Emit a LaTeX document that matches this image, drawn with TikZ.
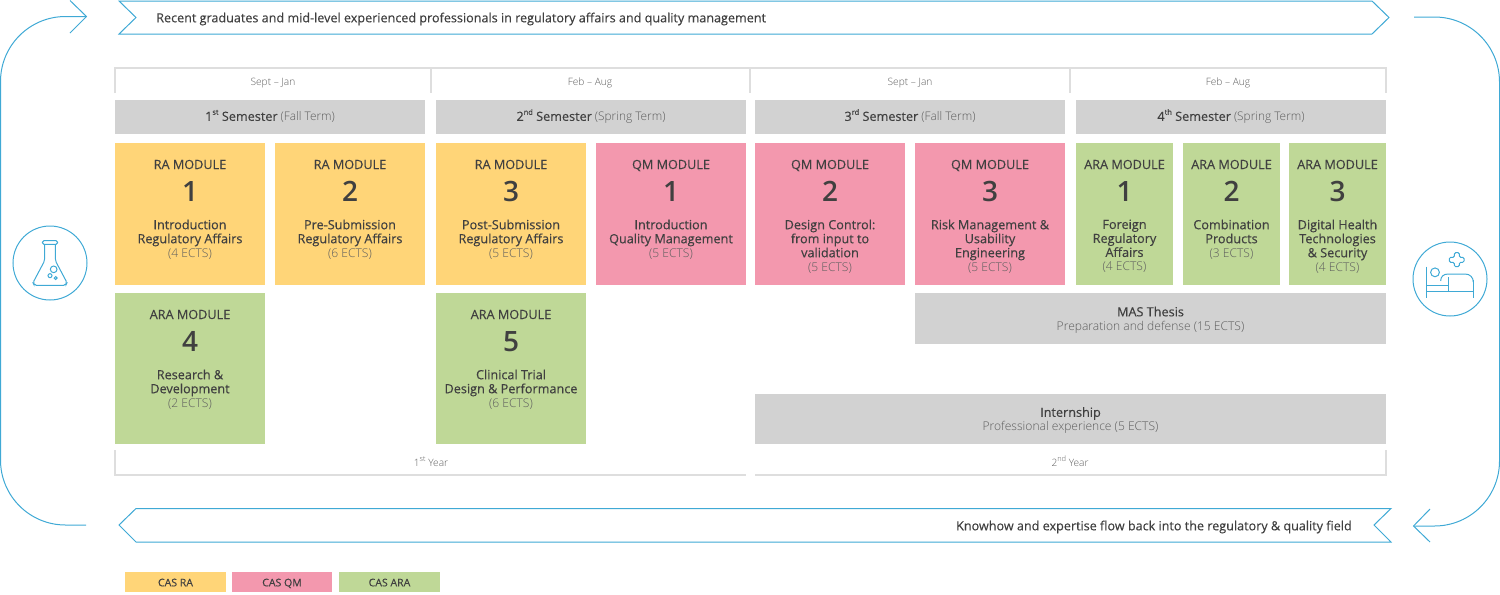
\documentclass[tikz,border=0pt]{standalone}
\usepackage{fontspec}
\setmainfont{Open Sans}
\newfontfamily\light{Open Sans Light}
\newfontfamily\medium[FakeBold=0.3]{Open Sans}
\newfontfamily\semi{Open Sans Semibold}
\usetikzlibrary{positioning}
\definecolor{cas-ra}{HTML}{FFD578}
\definecolor{cas-qm}{HTML}{F398AE}
\definecolor{cas-ara}{HTML}{BFD897}
\definecolor{bar}{HTML}{D2D2D2}
\definecolor{frame}{HTML}{DEDEDE}
\definecolor{flow}{HTML}{3FA9D5}
\definecolor{ink}{HTML}{404040}
\definecolor{soft}{HTML}{5E5E5E}
\newcommand{\ects}[1]{{\fontsize{9.05}{10.5}\light\color{soft}#1}}
\newcommand{\ord}[1]{\raisebox{0.9ex}{\fontsize{5.6}{6}\selectfont #1}}
\tikzset{%
	module/.style={
		rectangle,
		anchor=north west,
		inner sep=0pt,
		outer sep=0pt
	},
	module-head/.style={ font=\fontsize{9.5}{10.5}\medium, text=ink },
	module-num/.style={ font=\fontsize{21}{24}\semi, text=ink },
	module-text/.style={ anchor=north, align=center, inner sep=0pt, font=\fontsize{9.5}{10.5}\medium, text=ink,
		execute at begin node={\rule{0pt}{7.3pt}} },
	period/.style={ font=\fontsize{7.6}{9}\light, text=soft, text height=6pt, text depth=1.5pt },
	semester/.style={ font=\fontsize{8.9}{10.5}\light, text=soft, text height=7pt, text depth=2pt },
	wide-text/.style={ align=center, font=\fontsize{9.5}{10.5}\medium, text=ink },
	banner/.style={ draw=flow, line width=0.75pt, fill=white },
	banner-text/.style={ font=\fontsize{9.45}{11}\medium, text=ink, inner sep=0pt },
	loopline/.style={ draw=flow, line width=0.75pt },
	icon/.style={ draw=flow, line width=0.75pt },
	frameline/.style={ draw=frame, line width=1.1pt },
}
\begin{document}
\begin{tikzpicture}[x=0.75pt, y=-0.75pt]
\useasboundingbox (0,0) rectangle (1500,594);

% frames of periods and years
\draw[frameline] (115,93) -- (115,68) -- (1386,68) -- (1386,93);
\foreach \x in {431,750,1070}
	\draw[frameline] (\x,68) -- (\x,93);
\draw[frameline] (115,450) -- (115,475) -- (746,475);
\draw[frameline] (755,475) -- (1386,475) -- (1386,450);

% period labels
\foreach \l/\x in {Sept – Jan/273,Feb – Aug/590,Sept – Jan/910,Feb – Aug/1228}
	\node[period] (period-\x) at (\x,82) {\l};
\node[period] (year-1) at (431,463) {1\ord{st} Year};
\node[period] (year-2) at (1070,463) {2\ord{nd} Year};

% semesters
\foreach \i/\x in {1/115,2/436,3/755,4/1076}
	\node[module, fill=bar, minimum width=232.5pt, minimum height=25.5pt] (sem-\i) at (\x,100) {};
\foreach \i/\s/\t in {1/st/Fall,2/nd/Spring,3/rd/Fall,4/th/Spring}
	\node[semester] (sem-\i-text) at ([yshift=-0.4pt]sem-\i.center)
		{{\fontsize{9.5}{10.5}\medium\color{ink}\i\ord{\s} Semester} (\t\ Term)};

% modules
\foreach \nm/\x/\y/\w/\h/\col/\hd/\n/\txt in {
	ra-1/115/143/150/142/cas-ra/RA MODULE/1/{Introduction\\Regulatory Affairs\\\ects{(4 ECTS)}},
	ra-2/275/143/150/142/cas-ra/RA MODULE/2/{Pre-Submission\\Regulatory Affairs\\\ects{(6 ECTS)}},
	ra-3/436/143/150/142/cas-ra/RA MODULE/3/{Post-Submission\\Regulatory Affairs\\\ects{(5 ECTS)}},
	qm-1/596/143/150/142/cas-qm/QM MODULE/1/{Introduction\\Quality Management\\\ects{(5 ECTS)}},
	qm-2/755/143/150/142/cas-qm/QM MODULE/2/{Design Control:\\from input to\\validation\\\ects{(5 ECTS)}},
	qm-3/915/143/150/142/cas-qm/QM MODULE/3/{Risk Management \&\\Usability\\Engineering\\\ects{(5 ECTS)}},
	ara-1/1076/143/97/142/cas-ara/ARA MODULE/1/{Foreign\\Regulatory\\Affairs\\\ects{(4 ECTS)}},
	ara-2/1183/143/97/142/cas-ara/ARA MODULE/2/{Combination\\Products\\\ects{(3 ECTS)}},
	ara-3/1289/143/97/142/cas-ara/ARA MODULE/3/{Digital Health\\Technologies\\\& Security\\\ects{(4 ECTS)}},
	ara-4/115/293/150/151/cas-ara/ARA MODULE/4/{Research \&\\Development\\\ects{(2 ECTS)}},
	ara-5/436/293/150/151/cas-ara/ARA MODULE/5/{Clinical Trial\\Design \& Performance\\\ects{(6 ECTS)}}}
{
	\node[module, fill=\col, minimum width=\w*0.75pt, minimum height=\h*0.75pt] (\nm) at (\x,\y) {};
	\node[module-head, text height=7pt, text depth=0pt] (\nm-head) at ([yshift=-16pt]\nm.north) {\hd};
	\node[module-num] (\nm-num) at ([yshift=-36.25pt]\nm.north) {\n};
	\node[module-text] (\nm-text) at ([yshift=-57.25pt]\nm.north) {\txt};
}

% thesis and internship
\node[module, fill=bar, minimum width=353.25pt, minimum height=38.25pt] (thesis) at (915,293) {};
\node[wide-text] (thesis-text) at ([yshift=-1.1pt]thesis.center)
	{MAS Thesis\\\ects{Preparation and defense (15 ECTS)}};
\node[module, fill=bar, minimum width=473.25pt, minimum height=37.5pt] (internship) at (755,394) {};
\node[wide-text] (internship-text) at ([yshift=-1.1pt]internship.center)
	{Internship\\\ects{Professional experience (5 ECTS)}};

% banners
\draw[banner] (119,1) -- (1372,1) -- (1389,17.5) -- (1372,34) -- (119,34) -- (136,17.5) -- cycle;
\node[banner-text, anchor=west] (banner-top) at (156,19) {Recent graduates and mid-level experienced professionals in regulatory affairs and quality management};
\draw[banner] (119,525) -- (136,508.5) -- (1391,508.5) -- (1374,525) -- (1391,542) -- (136,542) -- cycle;
\node[banner-text, anchor=east] (banner-bottom) at (1352,527) {Knowhow and expertise flow back into the regulatory \& quality field};

% return arrows
\coordinate (loop-lb) at (86,525);
\coordinate (loop-lt) at (86.5,16.5);
\coordinate (loop-rt) at (1414,17);
\coordinate (loop-rb) at (1413.5,526);
\draw[loopline, rounded corners=48.75pt] (loop-lb) -- (0.5,525) -- (0.5,16.5) -- (loop-lt);
\draw[loopline] (70,0.5) -- (loop-lt) -- (70,33);
\draw[loopline, rounded corners=48.75pt] (loop-rt) -- (1499.5,17) -- (1499.5,526) -- (loop-rb);
\draw[loopline] (1430,509) -- (loop-rb) -- (1430,542);

% flask
\node[circle, icon, minimum size=55.5pt, inner sep=0pt] (flask) at (50,263) {};
\begin{scope}[shift={(0,220)}, x=0.25pt, y=-0.25pt]
	\draw[icon, rounded corners=1.2pt] (127,62) rectangle (173,73);
	\draw[icon, rounded corners=1.5pt] (134,73) -- (134,122) -- (99,188) -- (103,196) -- (197,196) -- (201,188) -- (166,122) -- (166,73);
	\draw[icon] (161,148) circle[radius=2.5pt];
	\draw[icon] (150,167) circle[radius=1.5pt];
	\draw[icon] (167,174) circle[radius=1.1pt];
\end{scope}

% patient
\node[circle, icon, minimum size=55.5pt, inner sep=0pt] (patient) at (1450,279) {};
\begin{scope}[shift={(1380,220)}, x=0.25pt, y=-0.25pt]
	\draw[icon] (140,140) -- (140,235);
	\draw[icon] (280,180) -- (280,235);
	\draw[icon] (140,195) -- (205,195);
	\draw[icon] (140,213) -- (280,213);
	\draw[icon] (165,157) circle[radius=3.3pt];
	\draw[icon] (205,213) -- (205,172);
	\draw[icon] (182,183) .. controls (182,170) and (190,162) .. (205,162) -- (255,162) .. controls (270,162) and (280,172) .. (280,187);
	\draw[icon, rounded corners=1pt] (223,98) -- (238,98) -- (238,112) -- (252,112) -- (252,127) -- (238,127) -- (238,140) -- (223,140) -- (223,127) -- (208,127) -- (208,112) -- (223,112) -- cycle;
\end{scope}

% legend
\foreach \nm/\x/\w/\col/\l in {ra/125/101/cas-ra/CAS RA,qm/232/100/cas-qm/CAS QM,ara/339/101/cas-ara/CAS ARA}
{
	\node[module, fill=\col, minimum width=\w*0.75pt, minimum height=15pt] (legend-\nm) at (\x,572) {};
	\node[text=ink, font=\fontsize{7.9}{9}\medium, text height=5.7pt, text depth=0pt, inner sep=0pt] (legend-\nm-text) at ([yshift=-0.4pt]legend-\nm.center) {\l};
}
\end{tikzpicture}
\end{document}
